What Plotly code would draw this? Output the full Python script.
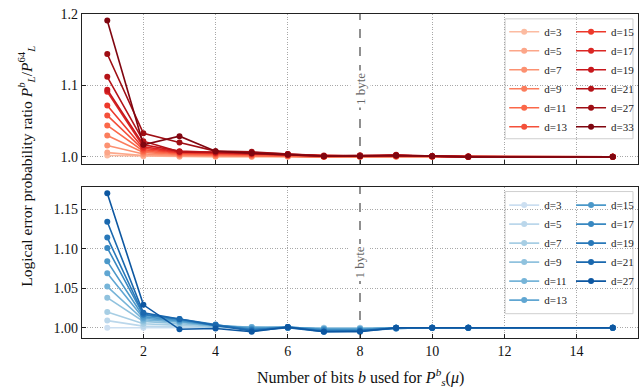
import plotly.graph_objects as go
from plotly.colors import sample_colorscale

bits = [1, 2, 3, 4, 5, 6, 7, 8, 9, 10, 11, 15]

d_top = [3, 5, 7, 9, 11, 13, 15, 17, 19, 21, 27, 33]
ratio_top = [
    [1.002, 1.001, 1.000, 1.000, 1.000, 1.000, 1.000, 1.000, 1.000, 1.000, 1.000, 1.000],
    [1.006, 1.002, 1.001, 1.001, 1.000, 1.001, 1.000, 1.000, 1.000, 1.000, 1.000, 1.000],
    [1.016, 1.004, 1.002, 1.001, 1.001, 1.001, 1.000, 1.000, 1.001, 1.000, 1.000, 1.000],
    [1.030, 1.006, 1.003, 1.002, 1.002, 1.001, 1.000, 1.000, 1.001, 1.001, 1.000, 1.000],
    [1.044, 1.008, 1.004, 1.003, 1.002, 1.002, 1.000, 1.001, 1.001, 1.000, 1.000, 1.000],
    [1.058, 1.010, 1.005, 1.004, 1.003, 1.002, 1.001, 1.001, 1.001, 1.001, 1.000, 1.000],
    [1.072, 1.012, 1.006, 1.005, 1.004, 1.003, 1.001, 1.001, 1.002, 1.001, 1.000, 1.000],
    [1.091, 1.014, 1.007, 1.006, 1.004, 1.003, 1.001, 1.002, 1.002, 1.001, 1.000, 1.000],
    [1.094, 1.017, 1.008, 1.006, 1.005, 1.003, 1.001, 1.001, 1.002, 1.001, 1.000, 1.000],
    [1.112, 1.022, 1.007, 1.007, 1.006, 1.004, 1.002, 1.002, 1.003, 1.001, 1.001, 1.000],
    [1.144, 1.033, 1.020, 1.008, 1.007, 1.004, 1.001, 1.002, 1.002, 1.001, 1.000, 1.000],
    [1.191, 1.017, 1.029, 1.008, 1.005, 1.003, 1.001, 1.001, 1.002, 1.001, 1.000, 1.000],
]

d_bot = [3, 5, 7, 9, 11, 13, 15, 17, 19, 21, 27]
ratio_bot = [
    [1.000, 1.000, 1.000, 1.000, 1.000, 1.000, 1.000, 1.000, 1.000, 1.000, 1.000, 1.000],
    [1.009, 1.002, 1.001, 1.000, 1.000, 1.000, 1.000, 1.000, 1.000, 1.000, 1.000, 1.000],
    [1.020, 1.005, 1.003, 1.001, 1.000, 1.000, 0.999, 0.999, 1.000, 1.000, 1.000, 1.000],
    [1.038, 1.008, 1.005, 1.002, 1.001, 1.000, 0.999, 0.999, 1.000, 1.000, 1.000, 1.000],
    [1.052, 1.010, 1.007, 1.002, 1.001, 1.000, 0.999, 0.999, 1.000, 1.000, 1.000, 1.000],
    [1.069, 1.012, 1.008, 1.003, 1.000, 1.001, 0.998, 0.998, 1.000, 1.000, 1.000, 1.000],
    [1.084, 1.014, 1.009, 1.003, 0.999, 1.001, 0.998, 0.998, 1.000, 1.000, 1.000, 1.000],
    [1.101, 1.016, 1.010, 1.003, 0.998, 1.000, 0.997, 0.997, 0.999, 1.000, 1.000, 1.000],
    [1.114, 1.017, 1.011, 1.004, 0.997, 1.001, 0.996, 0.996, 0.999, 1.000, 1.000, 1.000],
    [1.134, 1.019, 1.011, 1.003, 0.996, 1.000, 0.995, 0.996, 1.000, 1.000, 1.000, 1.000],
    [1.170, 1.029, 0.998, 0.999, 0.995, 1.001, 0.995, 0.995, 1.000, 1.000, 1.000, 1.000],
]

byte_bits = 8
top_range = [0.99, 1.2]
bot_range = [0.987, 1.178]
top_ticks = [1.0, 1.1, 1.2]
bot_ticks = [1.00, 1.05, 1.10, 1.15]
x_ticks = [2, 4, 6, 8, 10, 12, 14]

FONT = "Liberation Serif"

def lin(a, b, n):
    return [a + (b - a) * i / (n - 1) for i in range(n)]

reds = sample_colorscale("Reds", lin(0.25, 0.95, len(d_top)))
blues = sample_colorscale("Blues", lin(0.22, 0.85, len(d_bot)))

fig = go.Figure()

# "1 byte" reference lines (drawn first: above grid, below data)
for xa, ya, rng in [("x", "y", top_range), ("x2", "y2", bot_range)]:
    fig.add_trace(go.Scatter(
        x=[byte_bits, byte_bits], y=rng, mode="lines", showlegend=False, hoverinfo="skip",
        line=dict(color="white", width=2.5), xaxis=xa, yaxis=ya))
    fig.add_trace(go.Scatter(
        x=[byte_bits, byte_bits], y=rng, mode="lines", showlegend=False, hoverinfo="skip",
        line=dict(color="#555", width=1.3, dash="dash"), xaxis=xa, yaxis=ya))

for i, (d, vals) in enumerate(zip(d_top, ratio_top)):
    fig.add_trace(go.Scatter(
        x=bits, y=vals, mode="lines+markers", name=f"d={d}",
        line=dict(color=reds[i], width=1.6), marker=dict(color=reds[i], size=6),
        xaxis="x", yaxis="y", legend="legend" if i < 6 else "legend2"))

for i, (d, vals) in enumerate(zip(d_bot, ratio_bot)):
    fig.add_trace(go.Scatter(
        x=bits, y=vals, mode="lines+markers", name=f"d={d}",
        line=dict(color=blues[i], width=1.6), marker=dict(color=blues[i], size=6),
        xaxis="x2", yaxis="y2", legend="legend3" if i < 6 else "legend4"))

axis_common = dict(
    showline=True, linecolor="#222", linewidth=1.3, mirror=True,
    ticks="inside", ticklen=4, tickcolor="#222",
    showgrid=True, gridcolor="#a8a8a8", griddash="1px,1.5px", gridwidth=0.8,
    zeroline=False, tickfont=dict(family=FONT, size=14, color="#111"),
)

TOP_DOM = [0.537, 1.0]
BOT_DOM = [0.0, 0.466]

fig.update_layout(
    width=641, height=389,
    margin=dict(l=82, r=2, t=14, b=51),
    paper_bgcolor="white", plot_bgcolor="white",
    font=dict(family=FONT, size=14, color="#111"),
    xaxis=dict(domain=[0, 1], anchor="y", range=[0.3, 15.7], tickvals=x_ticks,
               showticklabels=False, **axis_common),
    yaxis=dict(domain=TOP_DOM, anchor="x", range=top_range, tickvals=top_ticks,
               tickformat=".1f", **axis_common),
    xaxis2=dict(domain=[0, 1], anchor="y2", range=[0.3, 15.7], tickvals=x_ticks,
                **axis_common),
    yaxis2=dict(domain=BOT_DOM, anchor="x2", range=bot_range, tickvals=bot_ticks,
                tickformat=".2f", **axis_common),
    showlegend=True,
)

leg_common = dict(bgcolor="rgba(0,0,0,0)", borderwidth=0, font=dict(family=FONT, size=11, color="#222"),
                  xanchor="left", yanchor="top", itemwidth=30, tracegroupgap=0)
fig.update_layout(
    legend=dict(x=0.758, y=0.99, **leg_common),
    legend2=dict(x=0.878, y=0.99, **leg_common),
    legend3=dict(x=0.758, y=0.455, **leg_common),
    legend4=dict(x=0.878, y=0.455, **leg_common),
)

# legend frames
for (y0, y1) in [(0.615, 0.985), (0.075, 0.452)]:
    fig.add_shape(type="rect", xref="paper", yref="paper", x0=0.761, x1=0.991, y0=y0, y1=y1,
                  line=dict(color="#cfcfcf", width=1), fillcolor="rgba(255,255,255,0.6)", layer="below")

for xa, ya in [("x", "y"), ("x2", "y2")]:
    fig.add_annotation(x=byte_bits, y=0.5, xref=xa, yref=f"{ya} domain", text="1 byte", textangle=-90,
                       showarrow=False, bgcolor="white", font=dict(family=FONT, size=13, color="#666"),
                       borderpad=2)

fig.add_annotation(
    xref="paper", yref="paper", x=-0.1, y=0.53, xanchor="center", yanchor="middle",
    text="Logical error probability ratio <i>P</i><sup><i>b</i></sup><sub><i>L</i></sub>/<i>P</i><sup>64</sup><sub><i>L</i></sub>",
    textangle=-90, showarrow=False, font=dict(family=FONT, size=15.5, color="#111"))

fig.add_annotation(
    xref="paper", yref="paper", x=0.5, y=-0.12, xanchor="center", yanchor="middle",
    text="Number of bits <i>b</i> used for <i>P</i><sup><i>b</i></sup><sub><i>s</i></sub>(<i>μ</i>)",
    showarrow=False, font=dict(family=FONT, size=16, color="#111"))

fig.write_html("out.html")
